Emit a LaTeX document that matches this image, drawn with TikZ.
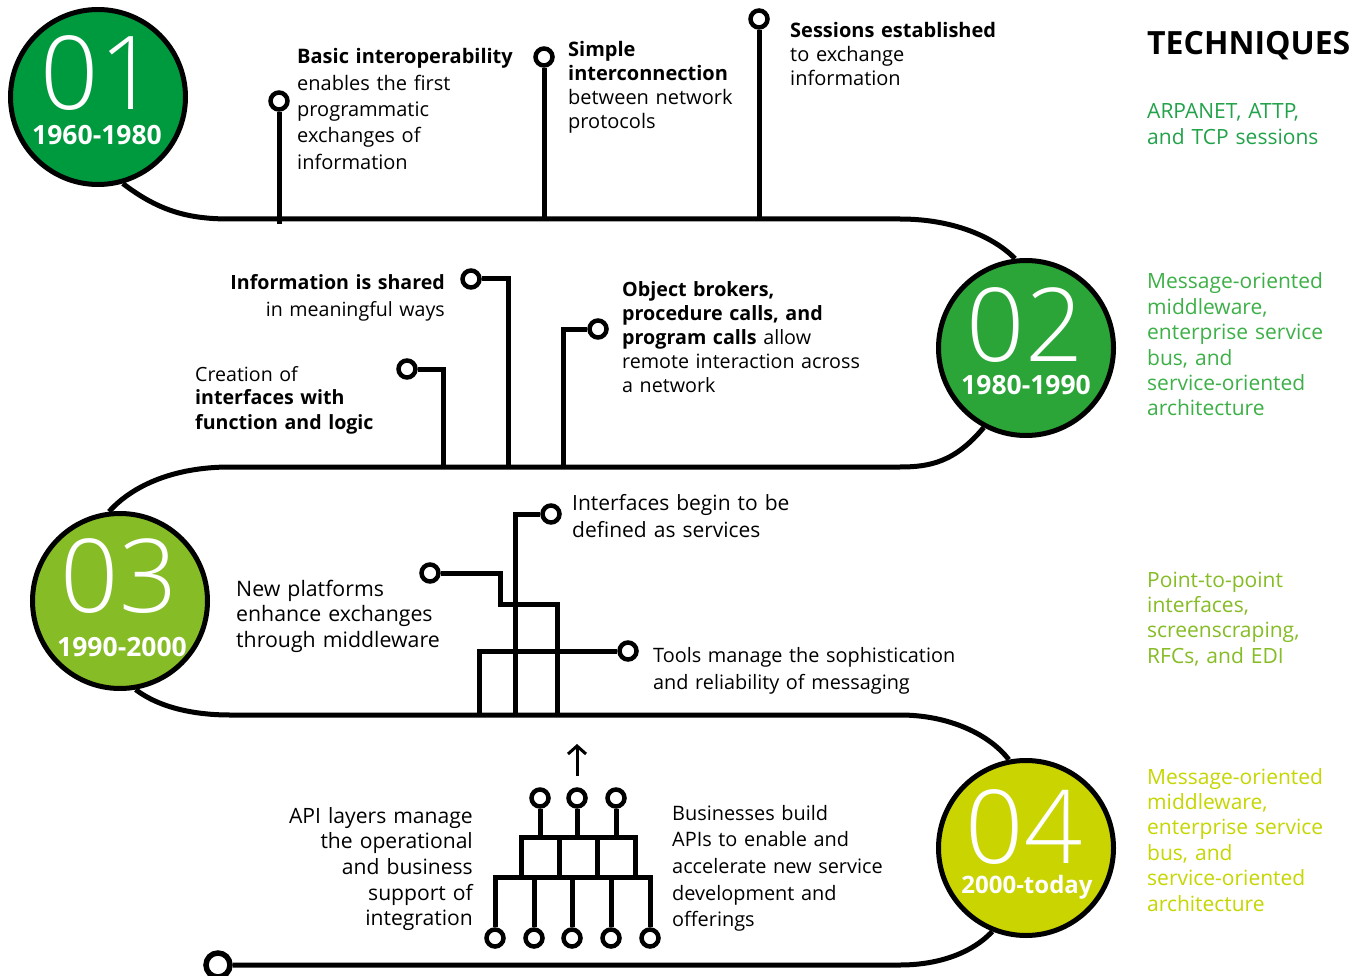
\documentclass[tikz,border=0pt]{standalone}
\usepackage{fontspec}
\setmainfont{Open Sans}
\IfFontExistsTF{Open Sans Light}{\newfontfamily\numfont{Open Sans Light}}{\newfontfamily\numfont{Open Sans}}
\usetikzlibrary{arrows.meta}
\pgfdeclarelayer{bg}
\pgfsetlayers{bg,main}
\definecolor{cA}{HTML}{009A3E}
\definecolor{cB}{HTML}{2BA537}
\definecolor{cC}{HTML}{86BC25}
\definecolor{cD}{HTML}{CAD400}
\definecolor{tA}{HTML}{22A24A}
\definecolor{tB}{HTML}{3DB048}
\definecolor{tC}{HTML}{86BC25}
\definecolor{tD}{HTML}{C5D600}
\begin{document}
\begin{tikzpicture}[x=1pt,y=-1pt,
  track/.style={line width=5pt},
  wire/.style={line width=5pt},
  era/.style={circle,draw=black,line width=5pt,minimum size=175pt,inner sep=0pt},
  pin/.style={circle,draw=black,fill=white,line width=4.5pt,minimum size=17pt,inner sep=0pt},
  body/.style={inner sep=0pt,font=\fontsize{20}{24}\selectfont,text width=330pt,align=left,anchor=base west},
  bodyr/.style={inner sep=0pt,font=\fontsize{20}{25.7}\selectfont,text width=330pt,align=right,anchor=base east},
  tech/.style={inner sep=0pt,font=\fontsize{21}{25.4}\selectfont,text width=220pt,align=left,anchor=base west},
  big/.style={text=white,inner sep=0pt,text height=73pt,text depth=0pt,font=\numfont\fontsize{102}{102}\selectfont,anchor=base},
  yr/.style={text=white,inner sep=0pt,text height=19pt,text depth=0pt,font=\bfseries\fontsize{26.5}{26.5}\selectfont,anchor=base},
]
\useasboundingbox (0,0) rectangle (1368,976);
% era circles
\node[era,fill=cA] (c1) at (98,97) {};
\node[era,fill=cB] (c2) at (1026,348) {};
\node[era,fill=cC] (c3) at (120,601) {};
\node[era,fill=cD] (c4) at (1026,848) {};
\node[big] (n1) at (99,110) {01};
\node[yr] (y1) at (97,145) {1960-1980};
\node[big] (n2) at (1025,361) {02};
\node[yr] (y2) at (1026,394) {1980-1990};
\node[big] (n3) at (119,612) {03};
\node[yr] (y3) at (122,656) {1990-2000};
\node[big] (n4) at (1024,863) {04};
\node[yr,text height=17pt,text depth=4pt,font=\bfseries\fontsize{24}{24}\selectfont] (y4) at (1027,893) {2000-today};
% end pin
\node[pin,minimum size=24pt,line width=5.5pt] (pend) at (218,965) {};
% track
\begin{pgfonlayer}{bg}
\fill[white] (0,0) rectangle (1368,976);
\draw[track] (c1.-74) .. controls (160,212) and (190,219) .. (230,219) -- (900,219) .. controls (955,219) and (995,238) .. (c2.97);
\draw[track] (c2.-118) .. controls (955,462) and (930,467) .. (900,467) -- (230,467) .. controls (170,467) and (130,488) .. (c3.97);
\draw[track] (c3.-80) .. controls (160,708) and (195,715) .. (230,715) -- (900,715) .. controls (950,715) and (990,735) .. (c4.101);
\draw[track] (c4.-112) .. controls (970,955) and (935,965) .. (900,965) -- (pend.east);
\end{pgfonlayer}
% period 1 pins
\node[pin] (a1) at (279,101) {};
\node[pin] (a2) at (544,57) {};
\node[pin] (a3) at (759,19) {};
\coordinate (a1b) at (279,224);
\coordinate (a2b) at (544,221);
\coordinate (a3b) at (759,221);
\begin{pgfonlayer}{bg}
\draw[wire] (a1) -- (a1b);
\draw[wire] (a2) -- (a2b);
\draw[wire] (a3) -- (a3b);
\end{pgfonlayer}
\node[body,font=\fontsize{20}{26.3}\selectfont] (t1) at (297,64) {\textbf{Basic interoperability}\\enables the first\\programmatic\\exchanges of\\information};
\node[body] (t2) at (568,57) {\textbf{Simple}\\\textbf{interconnection}\\between network\\protocols};
\node[body] (t3) at (790,38) {\textbf{Sessions established}\\to exchange\\information};
% period 2 pins
\node[pin] (b1) at (471,279) {};
\node[pin] (b2) at (407,369) {};
\node[pin] (b3) at (598,329) {};
\coordinate (b1b) at (508,469);
\coordinate (b2b) at (443,469);
\coordinate (b3b) at (563,469);
\begin{pgfonlayer}{bg}
\draw[wire] (b1) -| (b1b);
\draw[wire] (b2) -| (b2b);
\draw[wire] (b3) -| (b3b);
\end{pgfonlayer}
\node[bodyr,font=\fontsize{19.6}{27}\selectfont] (t4) at (445,290) {\textbf{Information is shared}\\in meaningful ways};
\node[body,font=\fontsize{19.6}{24}\selectfont] (t5) at (195,381) {Creation of\\\textbf{interfaces with}\\\textbf{function and logic}};
\node[body,font=\fontsize{19.7}{24}\selectfont] (t6) at (622,297) {\textbf{Object brokers,}\\\textbf{procedure calls, and}\\\textbf{program calls} allow\\remote interaction across\\a network};
% period 3 circuit
\node[pin] (r1) at (430,573) {};
\node[pin] (r2) at (551,514) {};
\node[pin] (r3) at (628,651) {};
\coordinate (r1b) at (557,717);
\coordinate (r2b) at (515,717);
\coordinate (r3b) at (479,717);
\begin{pgfonlayer}{bg}
\draw[wire] (r1) -- (500,573) |- (557,604) -- (r1b);
\draw[wire] (r2) -| (r2b);
\draw[wire] (r3) -| (r3b);
\end{pgfonlayer}
\node[body,font=\fontsize{21}{27}\selectfont] (t7) at (572,510) {Interfaces begin to be\\defined as services};
\node[body,font=\fontsize{21.3}{25.5}\selectfont] (t8) at (236,596) {New platforms\\enhance exchanges\\through middleware};
\node[body,font=\fontsize{19.85}{27}\selectfont] (t9) at (653,662) {Tools manage the sophistication\\and reliability of messaging};
% period 4 API block
\node[pin] (s1) at (540,798) {};
\node[pin] (s2) at (577,798) {};
\node[pin] (s3) at (616,798) {};
\node[pin] (u1) at (495,938) {};
\node[pin] (u2) at (534,938) {};
\node[pin] (u3) at (572,938) {};
\node[pin] (u4) at (611,938) {};
\node[pin] (u5) at (650,938) {};
\coordinate (k1) at (521,837);
\coordinate (k2) at (635,877);
\coordinate (ar0) at (577,776);
\coordinate (ar1) at (577,744);
\begin{pgfonlayer}{bg}
\draw[wire] (k1) rectangle (k2);
\draw[wire] (559,837) -- (559,877);
\draw[wire] (597,837) -- (597,877);
\draw[wire] (s1) -- (540,837);
\draw[wire] (s2) -- (577,837);
\draw[wire] (s3) -- (616,837);
\draw[wire] (u1) -- (495,877) -- (650,877) -- (u5);
\draw[wire] (u2) -- (534,877);
\draw[wire] (u3) -- (572,877);
\draw[wire] (u4) -- (611,877);
\end{pgfonlayer}
\draw[line width=3pt,-{Straight Barb[length=8pt,width=18pt,line width=3pt]}] (ar0) -- (ar1);
\node[bodyr,font=\fontsize{21.1}{25.7}\selectfont] (t10) at (473,823) {API layers manage\\the operational\\and business\\support of\\integration};
\node[body,font=\fontsize{19.9}{26.7}\selectfont] (t11) at (672,820) {Businesses build\\APIs to enable and\\accelerate new service\\development and\\offerings};
% techniques column
\node[anchor=base west,inner sep=0pt,font=\bfseries\fontsize{32}{32}\selectfont] (tech) at (1147,55) {TECHNIQUES};
\node[tech,text=tA] (k1t) at (1147,119) {ARPANET, ATTP,\\and TCP sessions};
\node[tech,text=tB] (k2t) at (1147,289) {Message-oriented\\middleware,\\enterprise service\\bus, and\\service-oriented\\architecture};
\node[tech,text=tC] (k3t) at (1147,587) {Point-to-point\\interfaces,\\screenscraping,\\RFCs, and EDI};
\node[tech,text=tD] (k4t) at (1147,784) {Message-oriented\\middleware,\\enterprise service\\bus, and\\service-oriented\\architecture};
\end{tikzpicture}
\end{document}
